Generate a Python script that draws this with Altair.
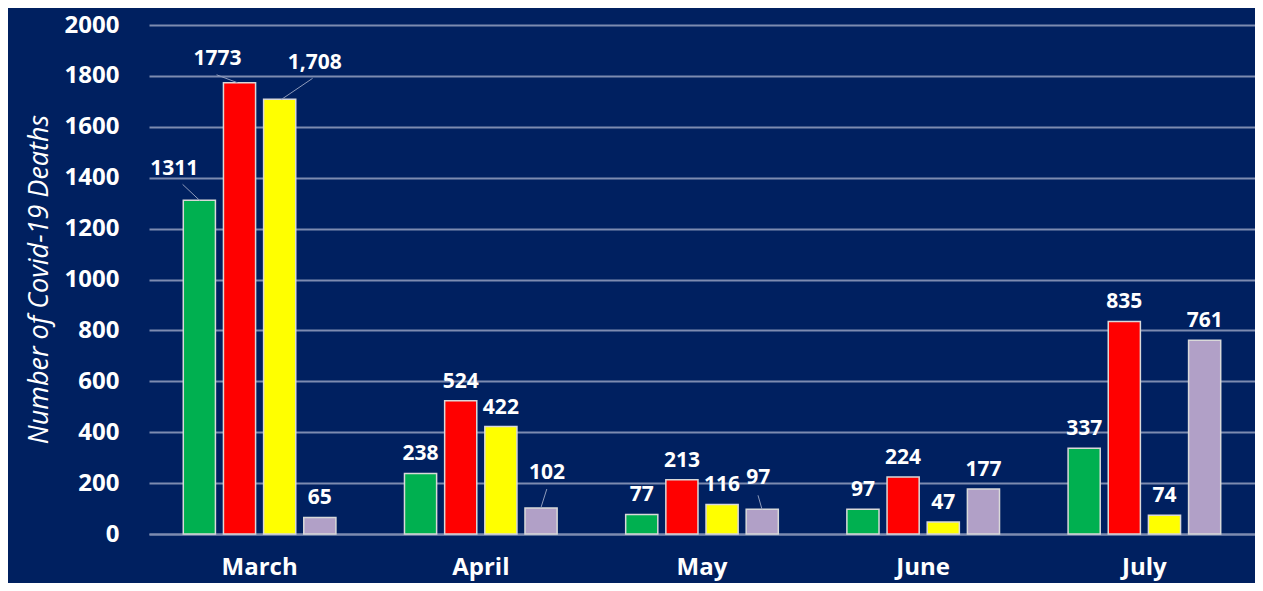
import altair as alt
import pandas as pd

months = ["March", "April", "May", "June", "July"]
series = ["Series 1", "Series 2", "Series 3", "Series 4"]
s1_values = [1311, 238, 77, 97, 337]
s2_values = [1773, 524, 213, 224, 835]
s3_values = [1708, 422, 116, 47, 74]
s4_values = [65, 102, 97, 177, 761]
label_overrides = {"March|Series 3": "1,708"}
colors = ["#00b050", "#ff0000", "#ffff00", "#b1a0c7"]
y_ticks = list(range(0, 2001, 200))

rows = []
for s, vals in zip(series, [s1_values, s2_values, s3_values, s4_values]):
    for m, v in zip(months, vals):
        k = f"{m}|{s}"
        rows.append({"month": m, "series": s, "value": v, "key": k,
                     "label": label_overrides.get(k, str(v))})
df = pd.DataFrame(rows)

FONT = "Open Sans"
GRID = "#7d8bb0"

x_scale = alt.Scale(domain=months, paddingInner=0.31, paddingOuter=0.155)
xo_scale = alt.Scale(domain=series, paddingInner=0.2, paddingOuter=0)
y_scale = alt.Scale(domain=[0, 2000], nice=False)

x_enc = alt.X("month:N", scale=x_scale, sort=months, title=None,
              axis=alt.Axis(labelFont=FONT, labelFontWeight="bold", labelFontSize=24,
                            labelColor="white", labelAngle=0, labelPadding=21,
                            ticks=False, tickSize=0, domain=True, domainColor=GRID,
                            domainWidth=2, grid=False))
xo_enc = alt.XOffset("series:N", scale=xo_scale, sort=series)
y_enc = alt.Y("value:Q", scale=y_scale,
              axis=alt.Axis(values=y_ticks, format="d", labelFont=FONT, labelFontWeight="bold",
                            labelFontSize=24, labelColor="white", labelPadding=30,
                            ticks=False, tickSize=0, domain=False, grid=True,
                            gridColor=GRID, gridWidth=2,
                            title="Number of Covid-19 Deaths", titleFont=FONT,
                            titleFontStyle="italic", titleFontWeight="normal",
                            titleFontSize=27, titleColor="white",
                            titleX=-102, titleY=254, titleBaseline="alphabetic",
                            titleAngle=270))

base = alt.Chart(df)

bars = base.mark_bar(stroke="#d9d9d9", strokeWidth=1.5).encode(
    x=x_enc, xOffset=xo_enc, y=y_enc,
    color=alt.Color("series:N", scale=alt.Scale(domain=series, range=colors), legend=None),
)

# special label placements (dx, dy relative to bar top centre) and leader lines
label_moves = {
    "March|Series 1": (-25, -31),
    "March|Series 2": (-22, -24),
    "March|Series 3": (35, -36),
    "April|Series 4": (6, -35),
    "May|Series 4": (-4, -31),
}
leaders = {
    "March|Series 1": (-60, -77, -16),
    "March|Series 2": (-22, -43, -8),
    "March|Series 3": (22, 53, -21),
    "April|Series 4": (60, 66, -19),
    "May|Series 4": (60, 56, -14),
}

special_list = "[" + ",".join(f"'{k}'" for k in label_moves) + "]"

text_style = dict(font=FONT, fontWeight="bold", fontSize=21, color="white",
                  baseline="middle", align="center")

layers = [bars]
layers.append(
    base.transform_filter(f"indexof({special_list}, datum.key) < 0")
    .mark_text(dy=-19, **text_style)
    .encode(x=x_enc, xOffset=xo_enc, y=y_enc, text="label:N")
)
for k, (dx, dy) in label_moves.items():
    layers.append(
        base.transform_filter(alt.datum.key == k)
        .mark_text(dx=dx, dy=dy, **text_style)
        .encode(x=x_enc, xOffset=xo_enc, y=y_enc, text="label:N")
    )
for k, (x0, x1, yo) in leaders.items():
    layers.append(
        base.transform_filter(alt.datum.key == k)
        .mark_rule(color="#8e9bbb", strokeWidth=1, xOffset=x0, x2Offset=x1, y2Offset=yo)
        .encode(x=alt.X("month:N", scale=x_scale, sort=months, bandPosition=0.5),
                x2=alt.X2("month:N", bandPosition=0.5),
                y=alt.Y("value:Q", scale=y_scale),
                y2=alt.Y2("value:Q"))
    )

chart = alt.layer(*layers).properties(
    width=1106, height=509,
    autosize=alt.AutoSizeParams(type="none"),
    padding={"left": 141, "top": 17, "right": 0, "bottom": 49},
    background="#002060",
).configure_view(stroke=None)

chart.save("out.html", embed_options={"renderer": "svg", "actions": False})
